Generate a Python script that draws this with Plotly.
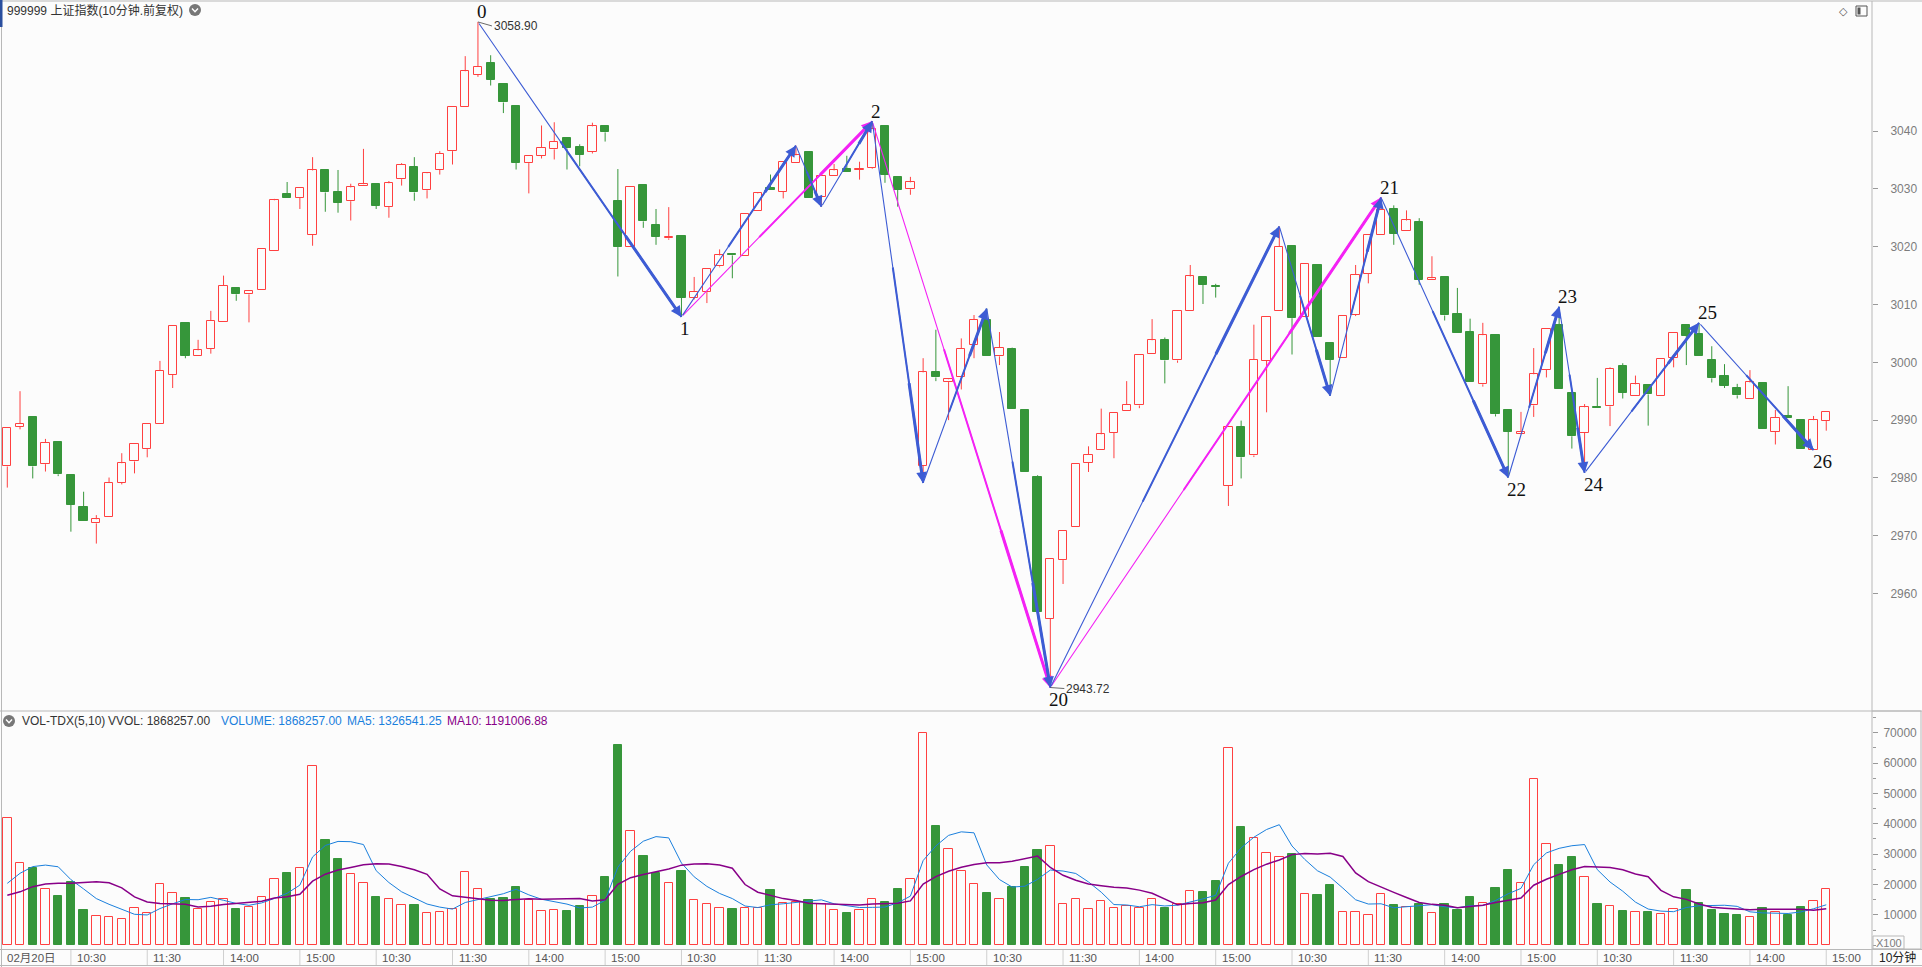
import plotly.graph_objects as go
import pandas as pd

# ---------------- data ----------------
opens = [2981.97, 2988.88, 2990.55, 2982.37, 2986.18, 2980.54, 2974.98, 2972.12, 2973.15, 2979.19,
         2982.84, 2985.07, 2989.28, 2997.86, 3006.83, 3001.03, 3002.38, 3006.91, 3012.87, 3011.76,
         3012.55, 3019.30, 3029.15, 3028.51, 3022.08, 3033.28, 3029.47, 3027.88, 3030.50, 3030.82,
         3026.93, 3031.69, 3033.76, 3029.79, 3033.28, 3036.54, 3044.16, 3049.72, 3051.79, 3048.13,
         3044.32, 3034.47, 3035.74, 3036.85, 3038.76, 3037.25, 3036.38, 3040.90, 3027.88, 3020.02,
         3030.66, 3023.75, 3021.45, 3021.84, 3011.20, 3012.15, 3016.60, 3018.74, 3018.35, 3026.21,
         3030.10, 3029.47, 3034.47, 3036.38, 3028.67, 3032.17, 3033.52, 3033.28, 3033.68, 3040.90,
         3032.09, 3029.94, 2982.05, 2998.25, 2996.58, 2997.38, 3002.94, 3007.31, 3001.03, 3002.30,
         2991.74, 2980.14, 2955.60, 2965.77, 2971.49, 2982.60, 2984.83, 2987.85, 2991.58, 2992.53,
         3001.43, 3003.81, 3000.32, 3008.90, 3014.69, 3013.26, 2978.63, 2988.72, 2983.88, 3000.24,
         3008.82, 3020.17, 3007.86, 3016.76, 3003.26, 3000.71, 3008.18, 3015.33, 3022.08, 3026.61,
         3022.72, 3024.23, 3014.22, 3014.69, 3008.34, 3005.24, 2996.19, 3004.69, 2991.74, 2987.53,
         2992.53, 2998.73, 3006.43, 2994.76, 2987.77, 2992.30, 2992.38, 2999.36, 2994.12, 2996.03,
         2994.12, 3000.71, 3006.51, 3004.92, 3000.40, 2997.62, 2995.55, 2993.73, 2996.43, 2988.01,
         2990.71, 2990.07, 2984.83, 2989.83]
highs = [2988.56, 2995.00, 2990.55, 2986.74, 2986.18, 2980.54, 2977.60, 2973.55, 2980.06, 2984.27,
         2985.78, 2989.28, 3000.24, 3006.20, 3006.83, 3003.89, 3008.90, 3015.00, 3013.00, 3012.31,
         3019.54, 3028.28, 3031.20, 3030.10, 3035.50, 3033.28, 3033.28, 3030.90, 3036.93, 3030.82,
         3031.37, 3034.47, 3035.50, 3032.88, 3036.54, 3044.16, 3052.98, 3058.90, 3053.14, 3048.13,
         3044.32, 3035.74, 3040.98, 3041.54, 3038.76, 3037.73, 3041.46, 3040.90, 3033.44, 3030.42,
         3030.66, 3026.53, 3026.85, 3021.84, 3014.77, 3016.20, 3019.54, 3018.74, 3025.58, 3029.39,
         3032.49, 3034.63, 3037.49, 3036.54, 3032.17, 3034.31, 3035.74, 3034.71, 3041.70, 3040.90,
         3032.09, 3032.09, 3000.71, 3005.64, 2997.10, 3004.13, 3008.18, 3009.29, 3005.24, 3002.54,
         2991.74, 2980.46, 2965.93, 2970.77, 2982.37, 2985.46, 2991.98, 2991.18, 2996.74, 3001.35,
         3007.47, 3004.29, 3008.82, 3016.84, 3014.69, 3013.58, 2988.88, 2989.91, 3006.51, 3007.86,
         3023.51, 3020.20, 3017.00, 3016.76, 3003.26, 3007.94, 3016.84, 3022.08, 3028.51, 3027.16,
         3026.29, 3024.94, 3018.35, 3014.69, 3012.87, 3007.55, 3006.83, 3004.69, 2991.74, 2991.42,
         3002.46, 3005.72, 3009.61, 2994.76, 2992.77, 2997.30, 2999.13, 2999.84, 2997.70, 2996.03,
         3000.64, 3005.00, 3006.60, 3006.83, 3002.78, 2999.68, 2996.27, 2998.65, 2996.43, 2991.74,
         2995.87, 2990.07, 2990.71, 2991.34]
lows = [2978.32, 2988.40, 2979.90, 2981.10, 2980.30, 2970.69, 2972.60, 2968.63, 2973.15, 2978.87,
        2980.78, 2983.56, 2989.28, 2995.55, 3000.70, 3001.03, 3001.50, 3006.91, 3010.64, 3006.91,
        3012.55, 3019.30, 3028.36, 3026.53, 3020.17, 3026.05, 3025.89, 3024.54, 3030.50, 3026.53,
        3025.02, 3030.58, 3027.96, 3028.36, 3032.49, 3034.23, 3044.16, 3049.40, 3047.90, 3043.13,
        3033.36, 3029.23, 3035.27, 3035.10, 3033.36, 3033.92, 3036.14, 3038.20, 3014.85, 3020.02,
        3023.27, 3020.33, 3021.20, 3007.86, 3010.88, 3010.25, 3016.44, 3014.54, 3018.35, 3026.21,
        3029.86, 3028.36, 3034.47, 3028.51, 3026.93, 3032.17, 3032.96, 3031.61, 3033.50, 3031.06,
        3026.93, 3028.99, 2979.11, 2996.74, 2989.99, 2995.30, 3000.71, 3001.03, 2999.52, 2991.98,
        2981.10, 2956.87, 2943.72, 2961.64, 2971.49, 2981.02, 2984.83, 2983.40, 2991.58, 2992.06,
        3001.43, 2996.35, 2999.92, 3008.90, 3010.09, 3011.20, 2975.14, 2979.90, 2983.60, 2991.34,
        3008.82, 3001.35, 3007.86, 3004.45, 2994.20, 3000.71, 3008.00, 3013.66, 3022.08, 3020.33,
        3022.72, 3013.42, 3014.22, 3007.23, 3005.00, 2996.51, 2995.79, 2990.63, 2980.06, 2987.50,
        2990.55, 2997.38, 2995.31, 2985.07, 2980.86, 2992.06, 2988.96, 2993.73, 2994.12, 2989.04,
        2994.12, 2999.13, 2999.52, 3001.03, 2996.51, 2995.55, 2993.73, 2993.73, 2988.40, 2985.78,
        2990.31, 2985.07, 2984.83, 2988.17]
closes = [2988.56, 2989.36, 2981.97, 2986.10, 2980.62, 2975.38, 2972.60, 2972.84, 2979.10, 2982.53,
          2985.78, 2989.28, 2998.49, 3006.20, 3001.11, 3002.07, 3007.23, 3013.26, 3011.76, 3012.31,
          3019.54, 3028.04, 3028.36, 3030.10, 3033.20, 3029.39, 3027.64, 3030.26, 3030.82, 3027.09,
          3030.98, 3034.15, 3029.39, 3032.72, 3036.06, 3044.16, 3050.36, 3051.15, 3048.93, 3044.96,
          3034.55, 3035.74, 3037.09, 3038.20, 3037.01, 3035.90, 3040.83, 3039.79, 3019.94, 3030.42,
          3024.38, 3021.76, 3021.60, 3011.20, 3012.15, 3016.20, 3018.50, 3018.50, 3025.58, 3029.23,
          3029.86, 3034.63, 3035.82, 3028.51, 3032.17, 3033.20, 3032.96, 3033.44, 3040.43, 3032.49,
          3029.86, 3031.14, 2998.25, 2997.38, 2997.06, 3002.38, 3007.39, 3001.03, 3002.54, 2991.98,
          2981.10, 2956.87, 2965.93, 2970.77, 2982.37, 2984.03, 2987.53, 2991.18, 2992.69, 3001.35,
          3003.81, 3000.32, 3008.82, 3014.85, 3013.42, 3013.10, 2988.88, 2983.56, 3000.48, 3007.86,
          3020.02, 3007.63, 3017.00, 3004.45, 3000.48, 3007.94, 3015.17, 3022.08, 3026.37, 3022.24,
          3024.54, 3014.22, 3014.54, 3008.10, 3005.00, 2996.51, 3004.69, 2991.02, 2988.01, 2987.93,
          2997.93, 3005.72, 2995.31, 2987.21, 2992.22, 2992.06, 2998.89, 2994.76, 2996.19, 2994.44,
          3000.64, 3005.00, 3004.61, 3001.03, 2997.22, 2995.95, 2994.28, 2996.51, 2988.40, 2990.39,
          2990.31, 2985.07, 2989.99, 2991.34]
# volume in units of 100 shares (axis "X100")
volumes = [42060, 26940, 25410, 18620, 16210, 20920, 11610, 9530, 9200, 8540,
           12160, 10510, 20040, 17090, 15550, 11830, 14350, 15220, 11940, 12490,
           15770, 21690, 23770, 25300, 58930, 34610, 28370, 23330, 20590, 15880,
           15120, 13140, 13250, 10510, 10840, 11830, 23990, 18400, 15120, 15550,
           19170, 14790, 11170, 11500, 11170, 12810, 16210, 22450, 65830, 37460,
           29350, 23770, 20370, 24420, 14790, 13580, 12160, 11940, 12160, 12270,
           18180, 13800, 14350, 14900, 13580, 11610, 10620, 11500, 15120, 14130,
           18510, 21690, 69990, 39210, 31540, 24320, 20040, 17200, 15120, 19170,
           25740, 31330, 32530, 13470, 15120, 11830, 14460, 12160, 12810, 12160,
           15330, 12270, 13580, 17740, 17520, 21140, 65060, 38880, 35270, 30230,
           29030, 30010, 16870, 16540, 19820, 10840, 10840, 9860, 16980, 13250,
           12490, 13580, 10510, 13580, 11610, 15880, 13800, 18840, 24750, 20370,
           54870, 33190, 26400, 29030, 22340, 13580, 12810, 11280, 11060, 10950,
           10190, 11830, 18180, 13910, 11610, 10400, 9970, 9200, 12160, 11060,
           9970, 12490, 14460, 18683]
# MA values at the left edge (their windows start before the visible data)
ma5_lead = [20400, 23700, 25900, 26400]
ma10_lead = [16500, 17600, 19300, 20200, 20400, 20400, 20700, 20900, 20600]

tick_idx = [0, 5, 11, 17, 23, 29, 35, 41, 47, 53, 59, 65, 71,
            77, 83, 89, 95, 101, 107, 113, 119, 125, 131, 137, 143]
tick_text = ["02月20日", "10:30", "11:30", "14:00", "15:00",
             "10:30", "11:30", "14:00", "15:00", "10:30", "11:30", "14:00", "15:00",
             "10:30", "11:30", "14:00", "15:00", "10:30", "11:30", "14:00", "15:00",
             "10:30", "11:30", "14:00", "15:00"]
price_ticks = [2960, 2970, 2980, 2990, 3000, 3010, 3020, 3030, 3040]
vol_ticks = [10000, 20000, 30000, 40000, 50000, 60000, 70000]
vol_tick_text = ["10000", "20000", "30000", "40000", "50000", "60000", "70000"]

# zigzag pivots: (bar index, price)
pivots = {
    "P0": (37, 3058.90), "P1": (53, 3007.86), "a": (62, 3037.49), "b": (64, 3026.93),
    "P2": (68, 3041.70), "c": (72, 2979.11), "d": (77, 3009.29), "P20": (82, 2943.72),
    "e": (100, 3023.51), "f": (104, 2994.20), "P21": (108, 3028.51), "P22": (118, 2980.06),
    "P23": (122, 3009.61), "P24": (124, 2980.86), "P25": (133, 3006.83), "P26": (142, 2984.83),
}
blue_segments = [("P0", "P1"), ("P1", "a"), ("a", "b"), ("b", "P2"), ("P2", "c"), ("c", "d"),
                 ("d", "P20"), ("P20", "e"), ("e", "f"), ("f", "P21"), ("P21", "P22"),
                 ("P22", "P23"), ("P23", "P24"), ("P24", "P25"), ("P25", "P26")]
magenta_segments = [("P1", "P2"), ("P2", "P20"), ("P20", "P21")]
pivot_labels = [("0", "P0", "up"), ("1", "P1", "down"), ("2", "P2", "up"), ("20", "P20", "down"),
                ("21", "P21", "up"), ("22", "P22", "down"), ("23", "P23", "up"),
                ("24", "P24", "down"), ("25", "P25", "up"), ("26", "P26", "down")]
price_notes = [("3058.90", "P0", 14, 4), ("2943.72", "P20", 14, 1)]

# ---------------- style ----------------
W, H = 1922, 967
BG = "#fcfcfc"
RED = "#ff4040"
GREEN = "#36963a"
BLUE = "#3d5cd4"
MAGENTA = "#f422f4"
MA5C = "#1a7fdc"
MA10C = "#880088"
AXC = "#b8b8b8"
TXT = "#7c7c7c"
FONT = "Liberation Sans, Arial, Noto Sans CJK SC, sans-serif"
SERIF = "Liberation Serif, Times New Roman, serif"

PX_BAR = 12.72      # pixel spacing of bars
X0 = 7.3            # pixel centre of first bar
PLOT_R = 1872       # right edge of plot area in px
XR = [-X0 / PX_BAR, (PLOT_R - X0) / PX_BAR]
PRICE_RANGE = [2939.83, 3062.35]
VOL_RANGE = [0, 77120]


def fx(p):
    return p / W


def fy(p):
    return 1 - p / H


n = len(opens)
idx = list(range(n))
up = [c >= o for o, c in zip(opens, closes)]

fig = go.Figure()

# ---------------- candles ----------------
for flag, col, fill in [(True, RED, BG), (False, GREEN, GREEN)]:
    xs = [i for i in idx if up[i] == flag]
    wx, wy = [], []
    for i in xs:
        top = max(opens[i], closes[i])
        bot = min(opens[i], closes[i])
        if highs[i] > top:
            wx += [i, i, None]
            wy += [top, highs[i], None]
        if lows[i] < bot:
            wx += [i, i, None]
            wy += [lows[i], bot, None]
    fig.add_trace(go.Scatter(x=wx, y=wy, mode="lines", line=dict(color=col, width=1),
                             xaxis="x", yaxis="y", hoverinfo="skip"))
    fig.add_trace(go.Bar(
        x=xs,
        y=[max(abs(closes[i] - opens[i]), 0.12) for i in xs],
        base=[min(opens[i], closes[i]) for i in xs],
        width=0.65,
        marker=dict(color=fill, line=dict(color=col, width=1)),
        xaxis="x", yaxis="y", hoverinfo="skip"))

# ---------------- volume ----------------
for flag, col, fill in [(True, RED, BG), (False, GREEN, GREEN)]:
    xs = [i for i in idx if up[i] == flag]
    fig.add_trace(go.Bar(
        x=xs, y=[volumes[i] for i in xs], width=0.66,
        marker=dict(color=fill, line=dict(color=col, width=1)),
        xaxis="x2", yaxis="y2", hoverinfo="skip"))

vs = pd.Series(volumes, dtype=float)
ma5 = vs.rolling(5).mean().tolist()
ma5[:len(ma5_lead)] = ma5_lead
ma10 = vs.rolling(10).mean().tolist()
ma10[:len(ma10_lead)] = ma10_lead
fig.add_trace(go.Scatter(x=idx, y=ma5, mode="lines", line=dict(color=MA5C, width=1),
                         xaxis="x2", yaxis="y2", hoverinfo="skip"))
fig.add_trace(go.Scatter(x=idx, y=ma10, mode="lines", line=dict(color=MA10C, width=1.5),
                         xaxis="x2", yaxis="y2", hoverinfo="skip"))

annotations = []

# ---------------- zigzag arrows ----------------
def seg_arrows(a, b, col):
    xa, ya = pivots[a]
    xb, yb = pivots[b]
    out = []
    stages = [(0.0, 1.1, 0), (0.4, 2.0, 0), (0.72, 3.0, 2)]
    for frac, w, head in stages:
        sx = xa + frac * (xb - xa)
        sy = ya + frac * (yb - ya)
        out.append(dict(x=xb, y=yb, ax=sx, ay=sy, xref="x", yref="y", axref="x", ayref="y",
                        text="", showarrow=True, arrowhead=head, arrowsize=0.72,
                        arrowwidth=w, arrowcolor=col, standoff=0))
    return out


for a, b in magenta_segments:
    annotations += seg_arrows(a, b, MAGENTA)
for a, b in blue_segments:
    annotations += seg_arrows(a, b, BLUE)

for txt, key, pos in pivot_labels:
    xb, yb = pivots[key]
    annotations.append(dict(x=xb, y=yb, xref="x", yref="y", text=txt, showarrow=False,
                            xanchor="left", yanchor="middle", xshift=-3,
                            yshift=10 if pos == "up" else -12,
                            font=dict(family=SERIF, size=19, color="#111111")))

for txt, key, dx, dy in price_notes:
    xb, yb = pivots[key]
    annotations.append(dict(x=xb, y=yb, xref="x", yref="y", text=txt, showarrow=True,
                            ax=dx, ay=dy, xanchor="left", yanchor="middle",
                            arrowhead=0, arrowwidth=0.8, arrowcolor="#444444",
                            font=dict(family=FONT, size=12, color="#333333")))

# ---------------- header texts ----------------
annotations.append(dict(x=fx(5), y=fy(10), xref="paper", yref="paper", showarrow=False,
                        text="999999 上证指数(10分钟.前复权)", xanchor="left", yanchor="middle",
                        font=dict(family=FONT, size=12, color="#333333")))
vol_head = [("VOL-TDX(5,10)", 20, "#333333"), ("VVOL: 1868257.00", 106, "#333333"),
            ("VOLUME: 1868257.00", 219, MA5C), ("MA5: 1326541.25", 345, MA5C),
            ("MA10: 1191006.88", 445, MA10C)]
for txt, xp, col in vol_head:
    annotations.append(dict(x=fx(xp), y=fy(721), xref="paper", yref="paper", showarrow=False,
                            text=txt, xanchor="left", yanchor="middle",
                            font=dict(family=FONT, size=12, color=col)))

# bottom axis labels
for i, t in zip(tick_idx, tick_text):
    annotations.append(dict(x=i, y=fy(957.5), xref="x2", yref="paper", showarrow=False,
                            text=t, xanchor="left", yanchor="middle",
                            xshift=4 if i > 0 else -2,
                            font=dict(family=FONT, size=11.5, color="#555555")))

annotations.append(dict(x=fx(1888.5), y=fy(942.5), xref="paper", yref="paper", showarrow=False,
                        text="X100", xanchor="center", yanchor="middle",
                        font=dict(family=FONT, size=11, color=TXT)))
annotations.append(dict(x=fx(1897), y=fy(957.5), xref="paper", yref="paper", showarrow=False,
                        text="10分钟", xanchor="center", yanchor="middle",
                        font=dict(family=FONT, size=12, color="#222222")))
annotations.append(dict(x=fx(1843), y=fy(11), xref="paper", yref="paper", showarrow=False,
                        text="◇", xanchor="center", yanchor="middle",
                        font=dict(family="DejaVu Sans", size=11, color="#555555")))

# ---------------- shapes ----------------
shapes = []


def pline(x0, y0, x1, y1, col=AXC, w=1):
    shapes.append(dict(type="line", xref="paper", yref="paper",
                       x0=fx(x0), y0=fy(y0), x1=fx(x1), y1=fy(y1),
                       line=dict(color=col, width=w)))


def prect(x0, y0, x1, y1, col=AXC, fill="rgba(0,0,0,0)", w=1):
    shapes.append(dict(type="rect", xref="paper", yref="paper",
                       x0=fx(x0), y0=fy(y1), x1=fx(x1), y1=fy(y0),
                       line=dict(color=col, width=w), fillcolor=fill))


pline(0, 1, W, 1)
pline(1.5, 0, 1.5, H)
prect(0, 0, 2.5, 27, col="#2b4f9e", fill="#2b4f9e", w=0)
pline(PLOT_R, 1, PLOT_R, 711)
pline(0, 711, W, 711)
prect(PLOT_R, 711, 1921, 949)
prect(1873, 936, 1904, 949)
pline(0, 949.5, W, 949.5)
pline(0, 965.5, W, 965.5)
pline(PLOT_R, 949.5, PLOT_R, 965.5)
# top-right small panel icon
prect(1856, 6, 1867, 16, col="#555555")
prect(1857.5, 7.5, 1860.5, 14.5, col="#555555", fill="#555555", w=0)

# header drop-down circles
for cx, cy in [(195, 10), (9, 721)]:
    shapes.append(dict(type="circle", xref="paper", yref="paper",
                       x0=fx(cx - 6), x1=fx(cx + 6), y0=fy(cy + 6), y1=fy(cy - 6),
                       fillcolor="#777777", line=dict(width=0)))
    shapes.append(dict(type="path", xref="paper", yref="paper",
                       path=f"M {fx(cx - 3)} {fy(cy - 1.5)} L {fx(cx)} {fy(cy + 1.8)} L {fx(cx + 3)} {fy(cy - 1.5)}",
                       line=dict(color="white", width=1.4)))

# bottom axis separators
for i in tick_idx[1:]:
    shapes.append(dict(type="line", xref="x2", yref="paper", x0=i, x1=i,
                       y0=fy(950), y1=fy(965), line=dict(color="#cfcfcf", width=1)))

fig.update_layout(
    width=W, height=H, margin=dict(l=0, r=0, t=0, b=0),
    paper_bgcolor=BG, plot_bgcolor=BG, showlegend=False, hovermode=False,
    barmode="overlay", bargap=0,
    font=dict(family=FONT, size=12, color=TXT),
    xaxis=dict(domain=[0, fx(PLOT_R)], range=XR, visible=False, anchor="y", fixedrange=True),
    yaxis=dict(domain=[fy(710), fy(2)], range=PRICE_RANGE, side="right", anchor="x",
               tickvals=price_ticks, ticks="outside", ticklen=5, tickcolor="#999999",
               ticklabelstandoff=10, showgrid=False, zeroline=False, showline=False,
               tickfont=dict(family=FONT, size=12, color=TXT), fixedrange=True),
    xaxis2=dict(domain=[0, fx(PLOT_R)], range=XR, visible=False, anchor="y2", matches="x"),
    yaxis2=dict(domain=[fy(945.3), fy(711)], range=VOL_RANGE, side="right", anchor="x2",
                tickvals=vol_ticks, ticktext=vol_tick_text, ticks="outside", ticklen=5,
                tickcolor="#999999",
                minor=dict(dtick=5000, ticklen=3, tickcolor="#999999", ticks="outside"),
                ticklabelstandoff=3, showgrid=False, zeroline=False, showline=False,
                tickfont=dict(family=FONT, size=12, color=TXT), fixedrange=True),
    annotations=annotations,
    shapes=shapes,
)

fig.write_html("out.html", config={"displayModeBar": False},
               post_script="document.body.style.margin='0';document.body.style.overflow='hidden';")
